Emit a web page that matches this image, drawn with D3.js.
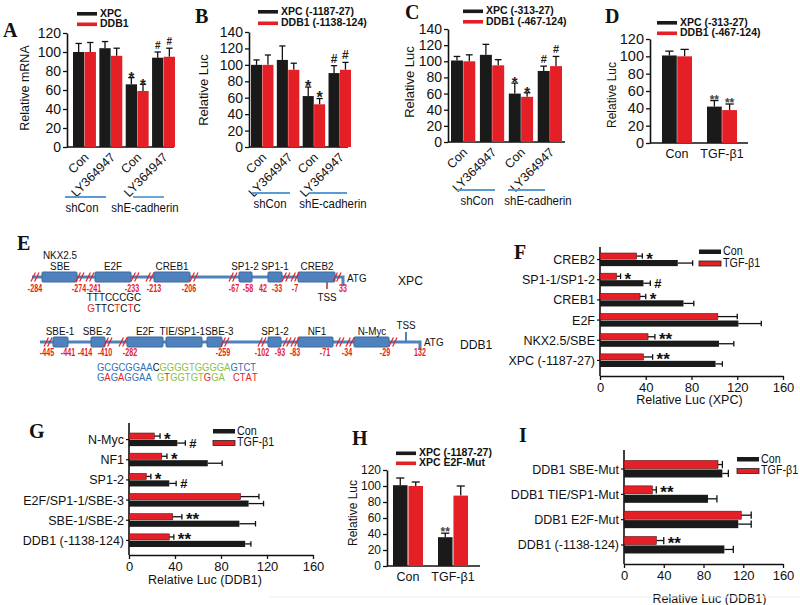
<!DOCTYPE html>
<html><head><meta charset="utf-8">
<script src="https://cdn.jsdelivr.net/npm/d3@7"></script>
<style>
body{margin:0;background:#fff;}
svg{display:block;}
</style></head><body>
<svg id="c" width="800" height="605"></svg>
<script>
// ---------------- DATA ----------------
const groupsABC = ["Con","LY364947","Con","LY364947"];
const subGroupsABC = ["shCon","shE-cadherin"];
const A_series = ["XPC","DDB1"];
const A_xpc = [100,104,66,94],  A_xpcErr = [9,7,7,6],   A_xpcSig = ["","","*","#"];
const A_ddb1 = [100,96,59,95],  A_ddb1Err = [10,8,7,9], A_ddb1Sig = ["","","*","#"];
const A_ticks = [0,20,40,60,80,100,120];

const B_series = ["XPC (-1187-27)","DDB1 (-1138-124)"];
const B_xpc = [100,106,62,90],  B_xpcErr = [6,17,11,9], B_xpcSig = ["","","*","#"];
const B_ddb1 = [100,94,52,94],  B_ddb1Err = [12,8,7,9], B_ddb1Sig = ["","","*","#"];
const B_ticks = [0,20,40,60,80,100,120,140];

const C_series = ["XPC (-313-27)","DDB1 (-467-124)"];
const C_xpc = [101,108,60,88],  C_xpcErr = [5,13,13,6], C_xpcSig = ["","","*","#"];
const C_ddb1 = [100,95,56,94],  C_ddb1Err = [8,7,5,12], C_ddb1Sig = ["","","*","#"];
const C_ticks = [0,20,40,60,80,100,120,140];

const groupsDH = ["Con","TGF-β1"];
const D_series = ["XPC (-313-27)","DDB1 (-467-124)"];
const D_xpc = [101,42], D_xpcErr = [5,7], D_xpcSig = ["","**"];
const D_ddb1 = [100,38], D_ddb1Err = [8,7], D_ddb1Sig = ["","**"];
const D_ticks = [0,20,40,60,80,100,120];

const H_series = ["XPC (-1187-27)","XPC E2F-Mut"];
const H_wt = [101,36], H_wtErr = [9,5], H_wtSig = ["","**"];
const H_mut = [100,88], H_mutErr = [5,12], H_mutSig = ["",""];
const H_ticks = [0,20,40,60,80,100,120];

const hSeries = ["Con","TGF-β1"];
const hTicks = [0,40,80,120,160];

const F_cats = ["CREB2","SP1-1/SP1-2","CREB1","E2F","NKX2.5/SBE","XPC (-1187-27)"];
const F_tgf = [32,14.5,35,103,42,38],   F_tgfErr = [5,3.5,5,17,6,8], F_tgfSig = ["*","*","*","","**","**"];
const F_con = [68,38,73,121,104,101],   F_conErr = [13,6,9,20,13,6], F_conSig = ["","#","","","",""];

const G_cats = ["N-Myc","NF1","SP1-2","E2F/SP1-1/SBE-3","SBE-1/SBE-2","DDB1 (-1138-124)"];
const G_tgf = [22,28.5,15,97,38,35],    G_tgfErr = [5,4.5,4,16,8,4], G_tgfSig = ["*","*","*","","**","**"];
const G_con = [42,68.5,35,104,96,101],  G_conErr = [7,12.5,6,13,14,5], G_conSig = ["#","","#","","",""];

const I_cats = ["DDB1 SBE-Mut","DDB1 TIE/SP1-Mut","DDB1 E2F-Mut","DDB1 (-1138-124)"];
const I_tgf = [94.6,28.5,118,32.5], I_tgfErr = [4.4,4,10,7.5], I_tgfSig = ["","**","","**"];
const I_con = [99,84.5,115,101],    I_conErr = [6,9,13,9],     I_conSig = ["","","",""];

// Promoter diagram (panel E)
const xpcSites = [["NKX2.5","SBE"],["E2F"],["CREB1"],["SP1-2"],["SP1-1"],["CREB2"]];
const xpcCoords = ["-284","-274","-241","-233","-213","-206","-67","-58","42","-33","-7","33"];
const ddbSites = [["SBE-1"],["SBE-2"],["E2F"],["TIE/SP1-1"],["SBE-3"],["SP1-2"],["NF1"],["N-Myc"]];
const ddbCoords = ["-445","-441","-414","-410","-282","-259","-102","-93","-83","-71","-34","-29","132"];
const xpcSeqWT = "TTTCCCGC";
const xpcSeqMut = "GTTCTCTC";
const ddbSeqWT = [["GCGCGGAA","b"],["C","k"],["GGGGTGGGGA","g"],["GTCT","b"]];
const ddbSeqMut = [["GAGAGGAA","brbrbbbb"],["GTGGTGTGGA","grgggggrgg"],["CTAT","rrrr"]];

// ---------------- STYLE / LAYOUT ----------------
const FONT = "'Liberation Sans', Arial, Helvetica, sans-serif";
const SERIF = "'Liberation Serif', 'Times New Roman', serif";
const RED = "#e41f26", BLK = "#1a1a1a", AX = "#111";
const DBLUE = "#4f81bd", DBLUE2 = "#3b6ba0";
const TXTC = {b:"#2f6fb8", k:"#111", g:"#8cc04a", r:"#e41f26"};
const svg = d3.select("#c").attr("font-family", FONT);

function text(g, x, y, s, o = {}) {
  const t = g.append("text").text(s)
    .attr("font-size", o.fs || 12).attr("fill", o.fill || "#111")
    .attr("text-anchor", o.anchor || "start").attr("font-family", o.ff || FONT);
  if (o.bold) t.attr("font-weight", "bold");
  const sx = o.sx || 1;
  if (o.rot === undefined && sx === 1) t.attr("x", x).attr("y", y);
  else t.attr("x", 0).attr("y", 0).attr("transform", `translate(${x},${y}) rotate(${o.rot || 0}) scale(${sx},1)`);
  return t;
}

function vChart(o) {
  const g = svg.append("g");
  const y = d3.scaleLinear().domain([0, d3.max(o.ticks)]).range([o.yBase, o.yTop]);
  const x = d3.scaleBand().domain(d3.range(o.cats.length)).range(o.band).paddingInner(o.pad);
  const xs = d3.scaleBand().domain(d3.range(o.series.length)).range([0, x.bandwidth()]).paddingInner(o.sub || 0.03);
  const ax = g.append("g").attr("transform", `translate(${o.axX},0)`)
    .call(d3.axisLeft(y).tickValues(o.ticks).tickSize(4).tickSizeOuter(0).tickPadding(2));
  ax.attr("font-family", FONT);
  ax.select(".domain").attr("stroke", AX).attr("stroke-width", 1.6);
  ax.selectAll(".tick line").attr("stroke", AX).attr("stroke-width", 1.3);
  ax.selectAll(".tick text").attr("font-size", o.tickFs).attr("fill", "#111");
  g.append("line").attr("x1", o.axX).attr("x2", o.axEnd).attr("y1", y(0)).attr("y2", y(0))
    .attr("stroke", AX).attr("stroke-width", 1.6);
  o.series.forEach((s, si) => {
    s.vals.forEach((v, i) => {
      const bw = xs.bandwidth(), bx = x(i) + xs(si), cx = bx + bw / 2, top = y(v + s.errs[i]);
      g.append("line").attr("x1", cx).attr("x2", cx).attr("y1", y(v)).attr("y2", top).attr("stroke", "#111").attr("stroke-width", 1.3);
      g.append("line").attr("x1", cx - bw * 0.28).attr("x2", cx + bw * 0.28).attr("y1", top).attr("y2", top).attr("stroke", "#111").attr("stroke-width", 1.3);
      g.append("rect").attr("x", bx).attr("y", y(v)).attr("width", bw).attr("height", y(0) - y(v)).attr("fill", s.color);
      const sg = s.sig[i];
      if (sg) {
        if (sg === "#") text(g, cx, top - 3, sg, {fs: o.hashFs || 11, anchor: "middle", bold: true, fill: o.sigFill || "#222"});
        else text(g, cx, top + (o.starFs || 15) * 0.42 - 2, sg, {fs: o.starFs || 15, anchor: "middle", bold: true, fill: o.sigFill || "#222"});
      }
    });
  });
  o.cats.forEach((c, i) => {
    const cx = x(i) + x.bandwidth() / 2;
    if (o.rotate) text(g, cx + 5, y(0) + 11, c, {fs: o.catFs, anchor: "end", rot: -45});
    else text(g, cx, y(0) + o.catDy, c, {fs: o.catFs, anchor: "middle"});
  });
  text(g, o.titleX, o.titleY, o.title, {fs: o.titleFs, anchor: "middle", rot: -90});
  o.series.forEach((s, si) => {
    const ly = o.leg[1] + si * o.leg[3];
    g.append("rect").attr("x", o.leg[0]).attr("y", ly).attr("width", 20).attr("height", 3.6).attr("fill", s.color);
    text(g, o.leg[0] + 23, ly + 4.5, s.name, {fs: o.leg[2], bold: true});
  });
  if (o.under) o.under.forEach((u, ui) => {
    g.append("line").attr("x1", u[0]).attr("x2", u[1]).attr("y1", o.underY).attr("y2", o.underY).attr("stroke", "#5b9bd5").attr("stroke-width", 1.8);
    text(g, u[2], o.underY + 15, o.subs[ui], {fs: o.subFs, anchor: "middle", sx: 0.88});
  });
}

function hChart(o) {
  const g = svg.append("g");
  const x = d3.scaleLinear().domain([0, 160]).range([o.x0, o.x1]);
  const y = d3.scaleBand().domain(d3.range(o.cats.length)).range(o.band).paddingInner(o.pad).paddingOuter(0.1);
  const ys = d3.scaleBand().domain([0, 1]).range([0, y.bandwidth()]).paddingInner(o.sub || 0.12);
  const ax = g.append("g").attr("transform", `translate(0,${o.axY})`)
    .call(d3.axisBottom(x).tickValues(hTicks).tickSize(4).tickSizeOuter(0).tickPadding(3));
  ax.attr("font-family", FONT);
  ax.select(".domain").attr("stroke", AX).attr("stroke-width", 1.6);
  ax.selectAll(".tick line").attr("stroke", AX).attr("stroke-width", 1.3);
  ax.selectAll(".tick text").attr("font-size", o.tickFs).attr("fill", "#111");
  g.append("line").attr("x1", o.x0).attr("x2", o.x0).attr("y1", o.top).attr("y2", o.axY).attr("stroke", AX).attr("stroke-width", 1.6);
  const series = [
    {vals: o.tgf, errs: o.tgfErr, sig: o.tgfSig, color: RED},
    {vals: o.con, errs: o.conErr, sig: o.conSig, color: BLK}
  ];
  series.forEach((s, si) => {
    s.vals.forEach((v, i) => {
      const bh = ys.bandwidth(), by = y(i) + ys(si), cy = by + bh / 2, end = x(v + s.errs[i]);
      g.append("line").attr("x1", x(v)).attr("x2", end).attr("y1", cy).attr("y2", cy).attr("stroke", "#111").attr("stroke-width", 1.3);
      g.append("line").attr("x1", end).attr("x2", end).attr("y1", cy - bh * 0.45).attr("y2", cy + bh * 0.45).attr("stroke", "#111").attr("stroke-width", 1.3);
      g.append("rect").attr("x", x(0)).attr("y", by).attr("width", x(v) - x(0)).attr("height", bh).attr("fill", s.color)
        .attr("stroke", si === 0 ? "#5a1010" : "none").attr("stroke-width", 0.6);
      const sg = s.sig[i];
      if (sg === "#") text(g, end + 4, cy + 5, sg, {fs: 13, bold: true});
      else if (sg) text(g, end + 4, cy + 8.5, sg, {fs: 17, bold: true});
    });
  });
  o.cats.forEach((c, i) => {
    const cy = y(i) + y.bandwidth() / 2;
    g.append("line").attr("x1", o.x0 - 3).attr("x2", o.x0).attr("y1", cy).attr("y2", cy).attr("stroke", AX).attr("stroke-width", 1.2);
    text(g, o.x0 - 5, cy + 4.5, c, {fs: o.catFs, anchor: "end"});
  });
  text(g, (o.x0 + o.x1) / 2 + (o.titleDx || 0), o.titleY, o.title, {fs: o.titleFs, anchor: "middle"});
  hSeries.forEach((nm, si) => {
    const ly = o.leg[1] + si * 11.5;
    g.append("rect").attr("x", o.leg[0]).attr("y", ly).attr("width", 22).attr("height", si ? 5 : 4.5)
      .attr("fill", si ? RED : BLK).attr("stroke", si ? "#222" : "none").attr("stroke-width", 0.8);
    text(g, o.leg[0] + 24, ly + 5.5, nm, {fs: 12.5, sx: 0.86});
  });
}

// ---------------- PANELS A-D, H ----------------
vChart({cats: groupsABC, ticks: A_ticks, yBase: 147, yTop: 33, axX: 67, axEnd: 174, band: [73, 175], pad: 0.13,
  series: [{name: A_series[0], vals: A_xpc, errs: A_xpcErr, sig: A_xpcSig, color: BLK},
           {name: A_series[1], vals: A_ddb1, errs: A_ddb1Err, sig: A_ddb1Sig, color: RED}],
  tickFs: 14, rotate: true, catFs: 12.5, title: "Relative mRNA", titleX: 29, titleY: 88, titleFs: 12.5,
  leg: [77, 12, 10.5, 10.5], hashFs: 10, starFs: 15,
  under: [[65, 106, 82], [133, 164, 145]], underY: 197, subs: subGroupsABC, subFs: 13});

vChart({cats: groupsABC, ticks: B_ticks, yBase: 147, yTop: 32, axX: 249, axEnd: 348, band: [251, 351], pad: 0.13,
  series: [{name: B_series[0], vals: B_xpc, errs: B_xpcErr, sig: B_xpcSig, color: BLK},
           {name: B_series[1], vals: B_ddb1, errs: B_ddb1Err, sig: B_ddb1Sig, color: RED}],
  tickFs: 14, rotate: true, catFs: 12.5, title: "Relative Luc", titleX: 208, titleY: 90, titleFs: 13,
  leg: [258, 10, 10.5, 11.5], hashFs: 12, starFs: 16,
  under: [[252, 290, 270], [309, 347, 333]], underY: 193, subs: subGroupsABC, subFs: 13});

vChart({cats: groupsABC, ticks: C_ticks, yBase: 142, yTop: 29, axX: 448, axEnd: 565, band: [451, 562], pad: 0.16,
  series: [{name: C_series[0], vals: C_xpc, errs: C_xpcErr, sig: C_xpcSig, color: BLK},
           {name: C_series[1], vals: C_ddb1, errs: C_ddb1Err, sig: C_ddb1Sig, color: RED}],
  tickFs: 14, rotate: true, catFs: 12.5, title: "Relative Luc", titleX: 414, titleY: 82, titleFs: 13,
  leg: [463, 9.5, 10.5, 10.5], hashFs: 11, starFs: 15,
  under: [[457, 495, 477], [508, 545, 538]], underY: 190, subs: subGroupsABC, subFs: 13});

vChart({cats: groupsDH, ticks: D_ticks, yBase: 143, yTop: 39, axX: 650, axEnd: 748, band: [662, 737], pad: 0.333,
  series: [{name: D_series[0], vals: D_xpc, errs: D_xpcErr, sig: D_xpcSig, color: BLK},
           {name: D_series[1], vals: D_ddb1, errs: D_ddb1Err, sig: D_ddb1Sig, color: RED}],
  tickFs: 14.5, rotate: false, catFs: 12.5, catDy: 15, title: "Relative Luc", titleX: 616, titleY: 95, titleFs: 12,
  leg: [657, 21, 10.5, 10.5], starFs: 12, sigFill: "#444"});

vChart({cats: groupsDH, ticks: H_ticks, yBase: 566, yTop: 470, axX: 387, axEnd: 480, band: [393, 468], pad: 0.333, sub: 0.06,
  series: [{name: H_series[0], vals: H_wt, errs: H_wtErr, sig: H_wtSig, color: BLK},
           {name: H_series[1], vals: H_mut, errs: H_mutErr, sig: H_mutSig, color: RED}],
  tickFs: 12, rotate: false, catFs: 12.5, catDy: 15, title: "Relative Luc", titleX: 357, titleY: 513, titleFs: 12,
  leg: [396, 451.5, 10.5, 10], starFs: 12, sigFill: "#444"});

// ---------------- PANELS F, G, I ----------------
hChart({cats: F_cats, tgf: F_tgf, tgfErr: F_tgfErr, tgfSig: F_tgfSig, con: F_con, conErr: F_conErr, conSig: F_conSig,
  x0: 600, x1: 783, top: 247, axY: 376, band: [251, 369], pad: 0.35, tickFs: 13, catFs: 12.5,
  title: "Relative Luc (XPC)", titleY: 404, titleFs: 12.5, titleDx: -2, leg: [699, 249.5]});

hChart({cats: G_cats, tgf: G_tgf, tgfErr: G_tgfErr, tgfSig: G_tgfSig, con: G_con, conErr: G_conErr, conSig: G_conSig,
  x0: 129, x1: 313, top: 423, axY: 555, band: [431, 549], pad: 0.35, tickFs: 13, catFs: 12.5,
  title: "Relative Luc (DDB1)", titleY: 584, titleFs: 12.5, titleDx: -16, leg: [213, 429]});

hChart({cats: I_cats, tgf: I_tgf, tgfErr: I_tgfErr, tgfSig: I_tgfSig, con: I_con, conErr: I_conErr, conSig: I_conSig,
  x0: 624, x1: 783, top: 450, axY: 564, band: [458, 556], pad: 0.33, sub: 0.1, tickFs: 13, catFs: 12.5,
  title: "Relative Luc (DDB1)", titleY: 603, titleFs: 12.5, titleDx: 6, leg: [737, 457]});

// ---------------- PANEL E (promoter diagram) ----------------
(function () {
  const g = svg.append("g");
  const LFS = 11.5, LSX = 0.86, NFS = 10.5, NSX = 0.68;
  function brk(x, y) {
    [-1.8, 1.8].forEach(d => g.append("line").attr("x1", x + d - 2.2).attr("y1", y + 4.5).attr("x2", x + d + 2.2).attr("y2", y - 4.5)
      .attr("stroke", RED).attr("stroke-width", 1.2));
  }
  function box(x0, x1, y) {
    g.append("rect").attr("x", x0).attr("y", y - 5).attr("width", x1 - x0).attr("height", 10)
      .attr("fill", DBLUE).attr("stroke", DBLUE2).attr("stroke-width", 1).attr("rx", 1);
  }
  // XPC row
  const yX = 277;
  const xpcBoxX = [[42, 77], [95, 131], [154, 190], [239, 252], [268, 282], [298, 335]];
  const xpcLabX = [60, 113, 172, 245, 275, 317];
  const xpcBrkX = [35, 80, 90, 135, 150, 194, 233, 286, 295, 337];
  const xpcCoordX = [35, 79, 94, 132, 154, 189, 234, 248, 263, 277, 295, 343];
  g.append("path").attr("d", `M32,${yX}H343V${yX + 9}`).attr("fill", "none").attr("stroke", DBLUE).attr("stroke-width", 3);
  g.append("line").attr("x1", 327).attr("x2", 327).attr("y1", yX + 5).attr("y2", yX + 12).attr("stroke", "#b73a3a").attr("stroke-width", 1.6);
  xpcBoxX.forEach(b => box(b[0], b[1], yX));
  xpcBrkX.forEach(x => brk(x, yX));
  xpcSites.forEach((s, i) => {
    s.slice().reverse().forEach((l, j) => text(g, xpcLabX[i], yX - 7 - j * 11, l, {fs: LFS, anchor: "middle", sx: LSX}));
  });
  xpcCoords.forEach((c, i) => text(g, xpcCoordX[i], yX + 15, c, {fs: NFS, anchor: "middle", bold: true, fill: RED, sx: NSX}));
  text(g, 327, yX + 24, "TSS", {fs: LFS, anchor: "middle", sx: LSX});
  text(g, 347, yX + 5, "ATG", {fs: LFS, sx: LSX});
  text(g, 398, yX + 8, "XPC", {fs: 13.5, sx: 0.9});
  text(g, 114, 301, xpcSeqWT, {fs: 11.5, anchor: "middle", sx: LSX});
  const mt = text(g, 114, 312, "", {fs: 11.5, anchor: "middle", sx: LSX});
  xpcSeqMut.split("").forEach((ch, i) => mt.append("tspan").text(ch).attr("fill", ch !== xpcSeqWT[i] ? RED : "#111"));

  // DDB1 row
  const yD = 342;
  const ddbBoxX = [[53, 68], [91, 105], [127, 163], [166, 202], [207, 222], [268, 281], [298, 333], [354, 389]];
  const ddbLabX = [60, 97, 145, 205, 205, 275, 317, 372];
  const ddbAnchor = ["middle", "middle", "middle", "end", "start", "middle", "middle", "middle"];
  const ddbBrkX = [48, 108, 123, 225, 262, 287, 295, 340, 350, 393];
  const ddbCoordX = [47, 68, 85, 105, 130, 223, 262, 280, 295, 325, 347, 385, 420];
  g.append("path").attr("d", `M40,${yD}H420V${yD + 8}`).attr("fill", "none").attr("stroke", DBLUE).attr("stroke-width", 3);
  g.append("line").attr("x1", 406).attr("x2", 406).attr("y1", yD).attr("y2", yD - 10).attr("stroke", DBLUE).attr("stroke-width", 2);
  ddbBoxX.forEach(b => box(b[0], b[1], yD));
  ddbBrkX.forEach(x => brk(x, yD));
  ddbSites.forEach((s, i) => text(g, ddbLabX[i], yD - 7, s[0], {fs: LFS, anchor: ddbAnchor[i], sx: LSX}));
  ddbCoords.forEach((c, i) => text(g, ddbCoordX[i], yD + 14, c, {fs: NFS, anchor: "middle", bold: true, fill: RED, sx: NSX}));
  text(g, 406, yD - 13, "TSS", {fs: LFS, anchor: "middle", sx: LSX});
  text(g, 424, yD + 4, "ATG", {fs: LFS, sx: LSX});
  text(g, 460, yD + 7, "DDB1", {fs: 13.5, sx: 0.9});
  const l1 = text(g, 97, 371, "", {fs: 11, sx: LSX});
  ddbSeqWT.forEach(s => l1.append("tspan").text(s[0]).attr("fill", TXTC[s[1]]));
  const segX = [97, 157, 233];
  ddbSeqMut.forEach((s, si) => {
    const t = text(g, segX[si], 381, "", {fs: 11, sx: LSX});
    s[0].split("").forEach((ch, i) => t.append("tspan").text(ch).attr("fill", TXTC[s[1][i]]));
  });
})();

// ---------------- PANEL LETTERS ----------------
[["A", 3, 37], ["B", 195, 23], ["C", 405, 19], ["D", 605, 23], ["E", 17, 250], ["F", 514, 259], ["G", 29, 438], ["H", 352, 445], ["I", 519, 442]]
  .forEach(p => text(svg, p[1], p[2], p[0], {fs: 20, bold: true, ff: SERIF}));

svg.append("line").attr("x1", 270).attr("x2", 800).attr("y1", 597).attr("y2", 597).attr("stroke", "#ececec").attr("stroke-width", 1);
</script>
</body></html>
